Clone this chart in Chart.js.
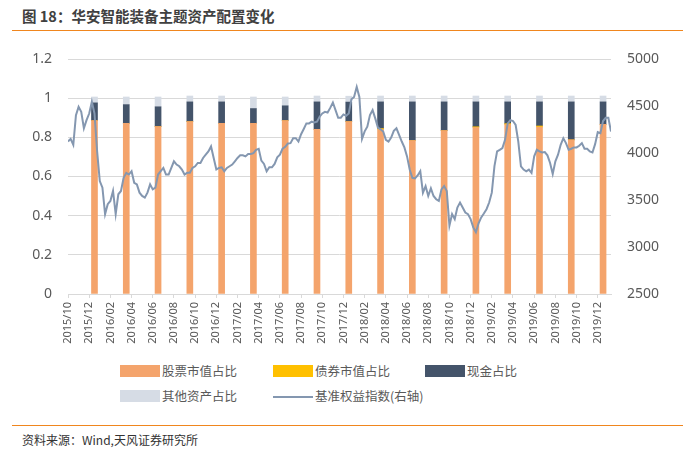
<!DOCTYPE html>
<html>
<head>
<meta charset="utf-8">
<script src="https://cdn.jsdelivr.net/npm/chart.js@4.4.1/dist/chart.umd.min.js"></script>
<style>
  body { margin: 0; width: 693px; height: 453px; position: relative; background: #fff; overflow: hidden;
         font-family: "Noto Sans CJK SC", "Noto Sans", sans-serif; }
  #title { position: absolute; left: 22px; top: 6px; line-height: 20px; font-size: 14.5px; font-weight: bold; color: #404040; }
  .rule { position: absolute; left: 12px; width: 671px; height: 1px; background: #F0861E; }
  #chartBox { position: absolute; left: 0; top: 40px; width: 693px; height: 310px; }
  .lg { position: absolute; height: 13px; font-size: 12.5px; line-height: 13px; color: #595959; white-space: nowrap; }
  .lg i { position: absolute; left: 0; top: 0; width: 40px; height: 12px; }
  .lg i.ln { top: 6px; height: 2px; }
  .lg span { position: absolute; left: 42px; top: -1px; }
  #source { position: absolute; left: 22px; top: 432px; line-height: 16px; font-size: 12px; color: #333; }
</style>
</head>
<body>
<div id="title">图 18：华安智能装备主题资产配置变化</div>
<div class="rule" style="top:30px"></div>
<div id="chartBox"><canvas id="allocChart"></canvas></div>
<div id="legend"></div>
<div class="rule" style="top:425px"></div>
<div id="source">资料来源：Wind,天风证券研究所</div>

<script>
// x axis labels (every two months)
var tickLabels = ['2015/10', '2015/12', '2016/02', '2016/04', '2016/06', '2016/08', '2016/10', '2016/12',
    '2017/02', '2017/04', '2017/06', '2017/08', '2017/10', '2017/12', '2018/02', '2018/04', '2018/06',
    '2018/08', '2018/10', '2018/12', '2019/02', '2019/04', '2019/06', '2019/08', '2019/10', '2019/12'];

// quarterly asset allocation
var quarters = ['2015/12', '2016/03', '2016/06', '2016/09', '2016/12', '2017/03', '2017/06', '2017/09', '2017/12',
    '2018/03', '2018/06', '2018/09', '2018/12', '2019/03', '2019/06', '2019/09', '2019/12'];
var stockShare = [0.885, 0.871, 0.855, 0.880, 0.871, 0.871, 0.885, 0.841, 0.880,
    0.840, 0.784, 0.834, 0.850, 0.865, 0.852, 0.787, 0.866];
var bondShare = [0, 0, 0, 0, 0, 0, 0, 0, 0,
    0.005, 0, 0, 0.004, 0.005, 0.006, 0, 0];
var cashShare = [0.091, 0.096, 0.101, 0.101, 0.110, 0.076, 0.076, 0.140, 0.100,
    0.136, 0.197, 0.147, 0.127, 0.111, 0.123, 0.194, 0.115];
var otherShare = [0.030, 0.039, 0.050, 0.030, 0.030, 0.059, 0.045, 0.030, 0.030,
    0.030, 0.030, 0.030, 0.030, 0.030, 0.030, 0.030, 0.030];

// benchmark equity index, roughly weekly (4 points a month) from 2015/10
var indexStart = '2015/10';
var indexPerMonth = 4;
var indexValues = [
    4122, 4150, 4087, 4403, 4491, 4438, 4263, 4350, 4420, 4544, 4420, 4017, 3701, 3631, 3350, 3456,
    3490, 3596, 3350, 3561, 3596, 3736, 3789, 3771, 3806, 3683, 3666, 3578, 3543, 3525, 3578, 3666,
    3613, 3631, 3771, 3806, 3841, 3771, 3771, 3841, 3912, 3877, 3859, 3824, 3771, 3789, 3789, 3841,
    3859, 3894, 3894, 3947, 3982, 4017, 4070, 3947, 3824, 3841, 3848, 3806, 3841, 3859, 3877, 3912,
    3947, 3975, 3975, 3964, 3989, 3989, 3999, 4034, 4045, 3919, 3884, 3806, 3848, 3848, 3884, 3954,
    3982, 4045, 4066, 4101, 4105, 4157, 4157, 4122, 4200, 4256, 4315, 4315, 4333, 4326, 4333, 4386,
    4421, 4438, 4431, 4480, 4537, 4456, 4375, 4375, 4410, 4396, 4420, 4572, 4596, 4702, 4596, 4150,
    4230, 4280, 4403, 4456, 4368, 4270, 4252, 4228, 4140, 4122, 4164, 4235, 4263, 4192, 4122, 4059,
    3964, 3824, 3736, 3729, 3761, 3806, 3578, 3648, 3543, 3624, 3543, 3508, 3490, 3613, 3648, 3596,
    3227, 3350, 3297, 3420, 3473, 3420, 3367, 3350, 3297, 3209, 3157, 3252, 3315, 3357, 3402, 3473,
    3578, 3860, 4017, 4034, 4052, 4140, 4315, 4350, 4340, 4298, 4122, 3859, 3824, 3806, 3824, 3789,
    3964, 4034, 4017, 4006, 4010, 3975, 3894, 3778, 3912, 3982, 4087, 4157, 4105, 4034, 4045, 4059,
    4059, 4077, 4105, 4045, 4045, 4017, 4006, 4094, 4221, 4210, 4340, 4375, 4375, 4228];

// months counted from the first tick label
function monthIndex(label) {
    var p = label.split('/');
    var s = tickLabels[0].split('/');
    return (+p[0] - +s[0]) * 12 + (+p[1] - +s[1]);
}

function quarterPoints(values) {
    return quarters.map(function (q, i) { return { x: monthIndex(q) + 0.5, y: values[i] }; });
}

var indexOffset = monthIndex(indexStart);
var indexPoints = indexValues.map(function (v, i) { return { x: indexOffset + i / indexPerMonth, y: v }; });

// fixed axis box width; keep the tick padding from pushing the plot down
function fitSide(width) {
    return function (scale) {
        scale.width = width;
        scale.paddingTop = 9;
        scale.paddingBottom = 9;
    };
}

Chart.defaults.font.family = '"Noto Sans", "Noto Sans CJK SC", sans-serif';
Chart.defaults.color = '#595959';

var ctx = document.getElementById('allocChart').getContext('2d');
var allocChart = new Chart(ctx, {
    type: 'bar',
    data: {
        datasets: [
            { label: '股票市值占比', data: quarterPoints(stockShare), backgroundColor: '#F4A46C', stack: 'alloc', barThickness: 6, order: 1 },
            { label: '债券市值占比', data: quarterPoints(bondShare), backgroundColor: '#FFC000', stack: 'alloc', barThickness: 6, order: 1 },
            { label: '现金占比', data: quarterPoints(cashShare), backgroundColor: '#44546A', stack: 'alloc', barThickness: 6, order: 1 },
            { label: '其他资产占比', data: quarterPoints(otherShare), backgroundColor: '#D6DCE5', stack: 'alloc', barThickness: 6, order: 1 },
            { label: '基准权益指数(右轴)', type: 'line', data: indexPoints, yAxisID: 'y1', borderColor: '#8497B0',
              borderWidth: 2, pointRadius: 0, tension: 0, order: 0 }
        ]
    },
    options: {
        responsive: true,
        maintainAspectRatio: false,
        animation: false,
        events: [],
        layout: { padding: { top: 19, left: 0, right: 0, bottom: 0 } },
        plugins: { legend: { display: false }, tooltip: { enabled: false } },
        scales: {
            x: {
                type: 'linear',
                min: 0,
                max: 51.25,
                offset: false,
                grid: { offset: false, drawOnChartArea: false, drawTicks: true, tickLength: 4, color: '#D9D9D9' },
                border: { display: true, color: '#D9D9D9' },
                afterBuildTicks: function (scale) {
                    scale.ticks = tickLabels.map(function (l) { return { value: monthIndex(l) }; });
                },
                afterFit: function (scale) { scale.height = 56; },
                ticks: {
                    autoSkip: false,
                    includeBounds: false,
                    minRotation: 90,
                    maxRotation: 90,
                    padding: 4,
                    font: { size: 11 },
                    callback: function (value, index) { return tickLabels[index]; }
                }
            },
            y: {
                stacked: true,
                min: 0,
                max: 1.2,
                grid: { color: '#D9D9D9', drawTicks: false },
                border: { display: false },
                afterFit: fitSide(68),
                ticks: {
                    stepSize: 0.2,
                    padding: 16,
                    font: { size: 14 },
                    callback: function (v) { return String(Math.round(v * 10) / 10); }
                }
            },
            y1: {
                position: 'right',
                min: 2500,
                max: 5000,
                grid: { drawOnChartArea: false, drawTicks: false },
                border: { display: false },
                afterFit: fitSide(82),
                ticks: {
                    stepSize: 500,
                    padding: 16,
                    font: { size: 14 },
                    callback: function (v) { return String(v); }
                }
            }
        }
    }
});

// legend laid out in a fixed 3-column grid like the original
var legendCols = [120, 273, 425];
var legendRows = [365, 390];
var legendBox = document.getElementById('legend');
allocChart.data.datasets.forEach(function (ds, i) {
    var item = document.createElement('div');
    item.className = 'lg';
    item.style.left = legendCols[i % 3] + 'px';
    item.style.top = legendRows[Math.floor(i / 3)] + 'px';
    var mark = document.createElement('i');
    if (ds.type === 'line') {
        mark.className = 'ln';
        mark.style.background = ds.borderColor;
    } else {
        mark.style.background = ds.backgroundColor;
    }
    var text = document.createElement('span');
    text.textContent = ds.label;
    item.appendChild(mark);
    item.appendChild(text);
    legendBox.appendChild(item);
});
</script>
</body>
</html>
